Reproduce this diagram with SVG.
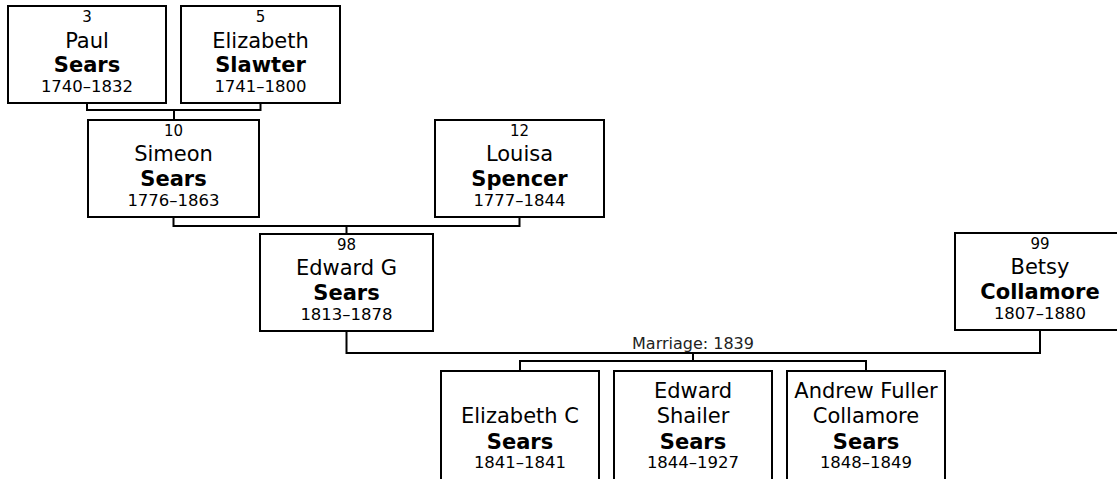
<svg xmlns="http://www.w3.org/2000/svg" width="1117" height="479" viewBox="0 0 1117 479">
<style>
.box{fill:#fff;stroke:#000;stroke-width:2}
.con{fill:none;stroke:#000;stroke-width:2}
text{font-family:"DejaVu Sans",Verdana,sans-serif;fill:#000;text-anchor:middle}
.num{font-size:15px}
.nm{font-size:21px}
.sn{font-size:21px;font-weight:bold}
.dt{font-size:16.5px}
.lbl{font-size:16px;fill:#222}
</style>
<rect width="1117" height="479" fill="#fff"/>
<g id="connectors">
<path class="con" d="M87 104 V110 H260.5 V104 M174 110 V120"/>
<path class="con" d="M173.5 218 V226 H519.5 V218 M346.5 226 V234"/>
<path class="con" d="M346.5 332 V353 H1040 V331"/>
<path class="con" d="M693 353 V361 M520 371 V361 H866 V371"/>
<text class="lbl" x="693" y="349">Marriage: 1839</text>
</g>
<g id="p3">
<rect class="box" x="8" y="6" width="158" height="97"/>
<text class="num" x="87" y="22">3</text>
<text class="nm" x="87" y="48">Paul</text>
<text class="sn" x="87" y="72">Sears</text>
<text class="dt" x="87" y="92">1740–1832</text>
</g>
<g id="p5">
<rect class="box" x="181" y="6" width="159" height="97"/>
<text class="num" x="260.5" y="22">5</text>
<text class="nm" x="260.5" y="48">Elizabeth</text>
<text class="sn" x="260.5" y="72">Slawter</text>
<text class="dt" x="260.5" y="92">1741–1800</text>
</g>
<g id="p10">
<rect class="box" x="88" y="120" width="171" height="97"/>
<text class="num" x="173.5" y="136">10</text>
<text class="nm" x="173.5" y="161">Simeon</text>
<text class="sn" x="173.5" y="186">Sears</text>
<text class="dt" x="173.5" y="206">1776–1863</text>
</g>
<g id="p12">
<rect class="box" x="435" y="120" width="169" height="97"/>
<text class="num" x="519.5" y="136">12</text>
<text class="nm" x="519.5" y="161">Louisa</text>
<text class="sn" x="519.5" y="186">Spencer</text>
<text class="dt" x="519.5" y="206">1777–1844</text>
</g>
<g id="p98">
<rect class="box" x="260" y="234" width="173" height="97"/>
<text class="num" x="346.5" y="250">98</text>
<text class="nm" x="346.5" y="275">Edward G</text>
<text class="sn" x="346.5" y="300">Sears</text>
<text class="dt" x="346.5" y="320">1813–1878</text>
</g>
<g id="p99">
<rect class="box" x="955" y="233" width="170" height="97"/>
<text class="num" x="1040" y="249">99</text>
<text class="nm" x="1040" y="274">Betsy</text>
<text class="sn" x="1040" y="299">Collamore</text>
<text class="dt" x="1040" y="319">1807–1880</text>
</g>
<g id="c1">
<rect class="box" x="441" y="371" width="158" height="120"/>
<text class="nm" x="520" y="423">Elizabeth C</text>
<text class="sn" x="520" y="449">Sears</text>
<text class="dt" x="520" y="468">1841–1841</text>
</g>
<g id="c2">
<rect class="box" x="614" y="371" width="158" height="120"/>
<text class="nm" x="693" y="398">Edward</text>
<text class="nm" x="693" y="423">Shailer</text>
<text class="sn" x="693" y="449">Sears</text>
<text class="dt" x="693" y="468">1844–1927</text>
</g>
<g id="c3">
<rect class="box" x="787" y="371" width="158" height="120"/>
<text class="nm" x="866" y="398">Andrew Fuller</text>
<text class="nm" x="866" y="423">Collamore</text>
<text class="sn" x="866" y="449">Sears</text>
<text class="dt" x="866" y="468">1848–1849</text>
</g>
</svg>
